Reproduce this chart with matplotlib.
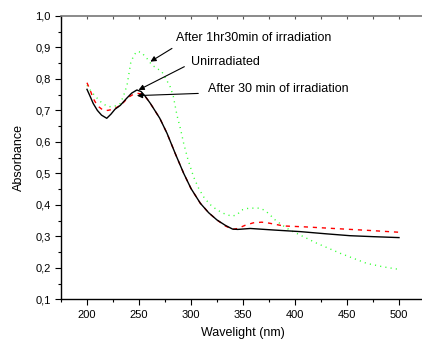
#!/usr/bin/env python3
"""
UV-Vis absorbance spectra before and after irradiation
"""

import matplotlib
matplotlib.use('Agg')
import matplotlib.pyplot as plt
from matplotlib.ticker import MultipleLocator, FuncFormatter

plt.rcParams['font.family'] = ['Liberation Sans', 'DejaVu Sans']
plt.rcParams['font.size'] = 8

# Unirradiated sample (black solid)
WL_UNIRR = [200, 203, 206, 210, 214, 219, 223, 227, 232, 238, 243, 248, 252, 256,
            261, 270, 277, 285, 293, 300, 309, 317, 325, 333, 340, 345, 357, 380,
            405, 430, 453, 475, 500]
ABS_UNIRR = [0.767, 0.745, 0.722, 0.700, 0.685, 0.675, 0.688, 0.704, 0.716, 0.738,
             0.755, 0.765, 0.760, 0.745, 0.722, 0.675, 0.627, 0.562, 0.500, 0.452,
             0.405, 0.375, 0.352, 0.335, 0.323, 0.322, 0.325, 0.320, 0.315, 0.308,
             0.302, 0.299, 0.296]

# After 30 min of irradiation (red dashed)
WL_30MIN = [200, 203, 206, 210, 215, 220, 225, 230, 235, 240, 245, 249, 253, 257,
            261, 270, 277, 285, 293, 300, 309, 317, 325, 333, 340, 345, 352, 360,
            368, 375, 389, 410, 437, 470, 500]
ABS_30MIN = [0.788, 0.765, 0.738, 0.715, 0.702, 0.700, 0.704, 0.712, 0.725, 0.742,
             0.752, 0.754, 0.752, 0.740, 0.722, 0.675, 0.627, 0.562, 0.500, 0.452,
             0.405, 0.375, 0.352, 0.333, 0.322, 0.325, 0.335, 0.343, 0.345, 0.342,
             0.333, 0.330, 0.325, 0.319, 0.313]

# After 1hr30min of irradiation (green dotted)
WL_90MIN = [200, 203, 208, 213, 218, 222, 227, 232, 235, 238.5, 242, 245, 248, 252,
            257, 262.5, 268, 272, 276, 280, 283, 286.5, 290, 293, 297, 302.5, 307,
            312, 318, 325, 332, 339, 344, 349, 355, 363, 367, 372, 376, 381, 387.5,
            395, 405, 421, 443.6, 469, 485, 500]
ABS_90MIN = [0.780, 0.765, 0.745, 0.728, 0.716, 0.712, 0.714, 0.722, 0.745, 0.780,
             0.850, 0.875, 0.887, 0.885, 0.868, 0.844, 0.832, 0.823, 0.800, 0.775,
             0.745, 0.685, 0.640, 0.595, 0.545, 0.489, 0.455, 0.426, 0.402, 0.384,
             0.372, 0.364, 0.368, 0.384, 0.389, 0.390, 0.389, 0.380, 0.368, 0.352,
             0.336, 0.320, 0.304, 0.278, 0.246, 0.214, 0.203, 0.195]

# Annotations: text, text position, arrow tail, arrow head (data units)
ANNOTATIONS = [
    ('After 1hr30min of irradiation', (286, 0.929), (281.7, 0.897), (261, 0.855)),
    ('Unirradiated', (300.3, 0.853), (293.6, 0.839), (249.6, 0.765)),
    ('After 30 min of irradiation', (316, 0.768), (307, 0.754), (248, 0.747)),
]


def comma_fmt(v, pos):
    return f'{v:.1f}'.replace('.', ',')


def make_plot():
    fig = plt.figure(figsize=(4.22, 3.41), dpi=100)
    ax = fig.add_axes([0.1445, 0.1223, 0.8626, 0.8308])

    ax.plot(WL_90MIN, ABS_90MIN, color='#33ff33', lw=1.0, linestyle=(0, (0.8, 3.0)))
    ax.plot(WL_30MIN, ABS_30MIN, color='#ff0000', lw=1.0, linestyle=(0, (3.0, 3.5)))
    ax.plot(WL_UNIRR, ABS_UNIRR, color='black', lw=1.0)

    for text, txy, tail, head in ANNOTATIONS:
        ax.annotate('', xy=head, xytext=tail,
                    arrowprops=dict(arrowstyle='-|>', color='black', lw=0.8,
                                    mutation_scale=8, shrinkA=0, shrinkB=0))
        ax.text(txy[0], txy[1], text, fontsize=9, ha='left', va='center')

    ax.set_xlim(175, 525)
    ax.set_ylim(0.1, 1.0)
    ax.xaxis.set_major_locator(MultipleLocator(50))
    ax.xaxis.set_minor_locator(MultipleLocator(25))
    ax.yaxis.set_major_locator(MultipleLocator(0.1))
    ax.yaxis.set_minor_locator(MultipleLocator(0.05))
    ax.yaxis.set_major_formatter(FuncFormatter(comma_fmt))

    ax.spines['right'].set_visible(False)
    ax.spines['top'].set_color('#777777')
    ax.spines['top'].set_linewidth(1.2)
    for side in ['left', 'bottom']:
        ax.spines[side].set_linewidth(1.0)

    ax.tick_params(which='major', direction='out', length=4, width=0.8, labelsize=8)
    ax.tick_params(which='minor', direction='out', length=2, width=0.8)
    ax.tick_params(which='both', top=False, right=False)

    # top axis: short inward ticks, no labels
    top = ax.secondary_xaxis('top')
    top.xaxis.set_major_locator(MultipleLocator(50))
    top.xaxis.set_minor_locator(MultipleLocator(25))
    top.tick_params(which='both', direction='in', length=2, width=0.8,
                    labeltop=False, color='#555555')
    top.spines['top'].set_visible(False)

    ax.set_xlabel('Wavelight (nm)', fontsize=9, labelpad=5)
    ax.set_ylabel('Absorbance', fontsize=9, labelpad=7)

    fig.savefig('out.png', dpi=100)


if __name__ == "__main__":
    make_plot()
